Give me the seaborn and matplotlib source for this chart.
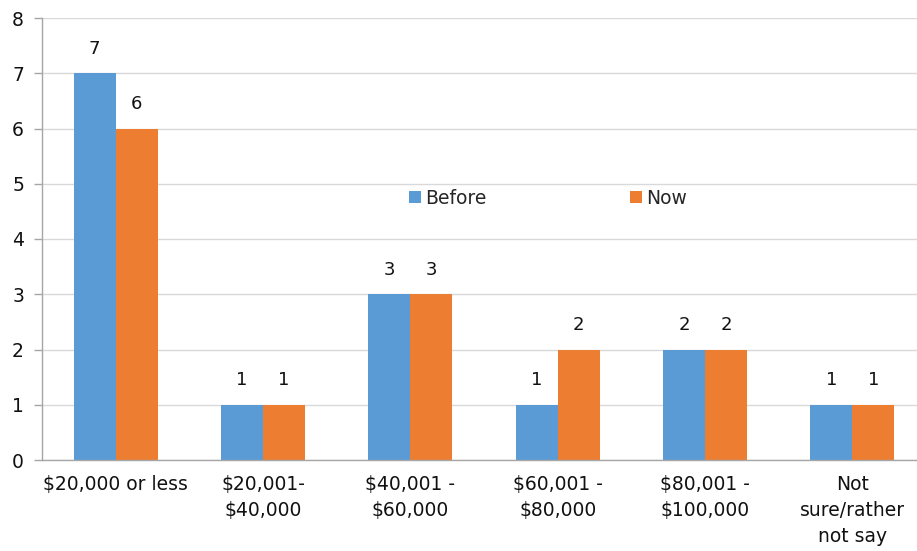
import matplotlib
matplotlib.use("Agg")
import matplotlib.pyplot as plt
import seaborn as sns
import pandas as pd

categories = ["$20,000 or less", "$20,001-\n$40,000", "$40,001 -\n$60,000",
              "$60,001 -\n$80,000", "$80,001 -\n$100,000", "Not\nsure/rather\nnot say"]
before = [7, 1, 3, 1, 2, 1]
now = [6, 1, 3, 2, 2, 1]
series = ["Before", "Now"]
colors = ["#5B9BD5", "#ED7D31"]

df = pd.DataFrame({
    "category": categories * 2,
    "count": before + now,
    "period": [series[0]] * len(categories) + [series[1]] * len(categories),
})

sns.set_style("white")
plt.rcParams["font.family"] = ["DejaVu Sans"]

fig = plt.figure(figsize=(9.17, 5.51), dpi=100)
ax = fig.add_axes([42 / 917, 1 - 460 / 551, 884 / 917, 442 / 551])

sns.barplot(data=df, x="category", y="count", hue="period", palette=colors,
            width=0.57, gap=0, saturation=1, ax=ax, order=categories,
            hue_order=series, edgecolor="none")

for cont in ax.containers:
    ax.bar_label(cont, labels=[f"{v:.0f}" for v in cont.datavalues],
                 padding=11, fontsize=13, color="#111111")

ax.set_ylim(0, 8)
ax.set_xlim(-0.5, len(categories) - 0.5)
ax.set_yticks(range(0, 9))
ax.yaxis.grid(True, color="#d9d9d9", linewidth=1)
ax.set_axisbelow(True)
ax.set_xlabel("")
ax.set_ylabel("")

# ticks on category boundaries
ax.set_xticks([i + 0.5 for i in range(-1, len(categories))], minor=True)
ax.set_xticks(range(len(categories)))
ax.set_xticklabels(categories, fontsize=13.5, color="#111111", linespacing=1.45)
ax.tick_params(axis="x", which="major", length=0, pad=11)
ax.tick_params(axis="x", which="minor", length=6, color="#a6a6a6", width=1)
ax.tick_params(axis="y", length=6, color="#a6a6a6", width=1, labelsize=13.5,
               labelcolor="#111111", pad=7, left=True)

for s in ["top", "right"]:
    ax.spines[s].set_visible(False)
for s in ["left", "bottom"]:
    ax.spines[s].set_color("#a6a6a6")
    ax.spines[s].set_linewidth(1)

leg = ax.legend(loc="center", bbox_to_anchor=(506 / 884, (460 - 198) / 442),
                ncol=2, frameon=False, fontsize=13.5, columnspacing=7.7,
                handlelength=0.62, handleheight=0.62, handletextpad=0.2)

fig.savefig("out.png", dpi=100)
